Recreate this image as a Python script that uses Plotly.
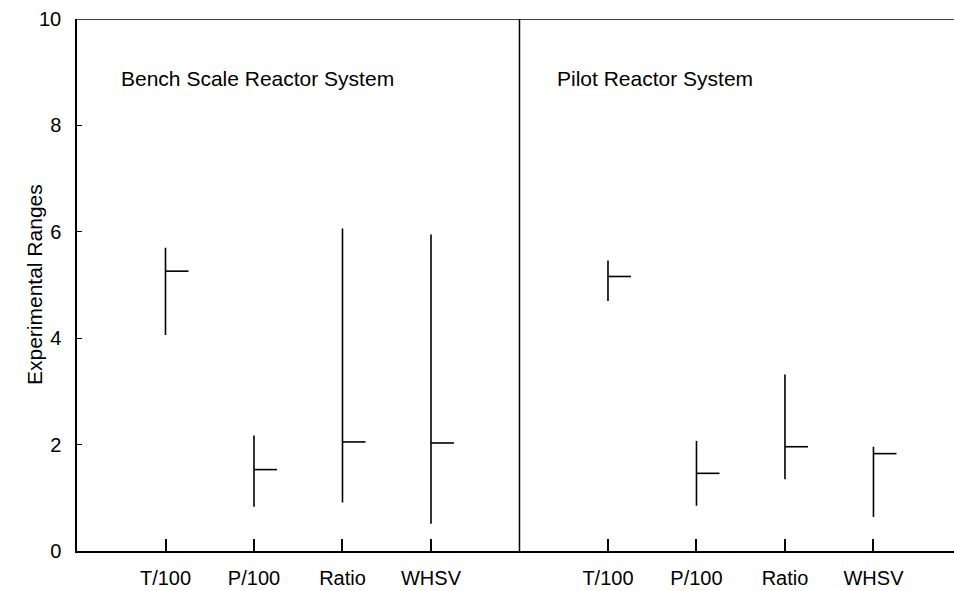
import plotly.graph_objects as go

categories = ["T/100", "P/100", "Ratio", "WHSV"]
bench_x = [1, 2, 3, 4]
pilot_x = [6, 7, 8, 9]
bench_low = [4.06, 0.83, 0.91, 0.51]
bench_high = [5.70, 2.17, 6.06, 5.95]
bench_mid = [5.26, 1.53, 2.05, 2.03]
pilot_low = [4.70, 0.85, 1.35, 0.64]
pilot_high = [5.46, 2.07, 3.32, 1.96]
pilot_mid = [5.16, 1.46, 1.96, 1.83]
tick_len = 0.26
divider_x = 5
panel_titles = ["Bench Scale Reactor System", "Pilot Reactor System"]
y_title = "Experimental Ranges"
font = "Liberation Sans, Arial, sans-serif"

fig = go.Figure()


def add_ranges(xs, lo, hi, mid):
    vx, vy, hx, hy = [], [], [], []
    for x, a, b, m in zip(xs, lo, hi, mid):
        vx += [x, x, None]
        vy += [a, b, None]
        hx += [x, x + tick_len, None]
        hy += [m, m, None]
    fig.add_trace(go.Scatter(x=vx, y=vy, mode="lines",
                             line=dict(color="black", width=1.6),
                             showlegend=False, hoverinfo="skip"))
    fig.add_trace(go.Scatter(x=hx, y=hy, mode="lines",
                             line=dict(color="black", width=1.6),
                             showlegend=False, hoverinfo="skip"))


add_ranges(bench_x, bench_low, bench_high, bench_mid)
add_ranges(pilot_x, pilot_low, pilot_high, pilot_mid)

# divider between panels and top border
fig.add_shape(type="line", x0=divider_x, x1=divider_x, y0=0, y1=10,
              xref="x", yref="y", line=dict(color="black", width=1.5))
fig.add_shape(type="line", x0=0, x1=1, y0=10, y1=10,
              xref="paper", yref="y", line=dict(color="black", width=1.5))

fig.add_annotation(x=0.47, y=8.88, xref="x", yref="y", text=panel_titles[0],
                   showarrow=False, xanchor="left", yanchor="middle",
                   font=dict(family=font, size=21, color="black"))
fig.add_annotation(x=5.4, y=8.88, xref="x", yref="y", text=panel_titles[1],
                   showarrow=False, xanchor="left", yanchor="middle",
                   font=dict(family=font, size=21, color="black"))
fig.add_annotation(x=-0.049, y=0.5, xref="paper", yref="paper", text=y_title,
                   showarrow=False, textangle=-90, xanchor="center",
                   yanchor="middle",
                   font=dict(family=font, size=21, color="black"))

fig.update_layout(
    width=954, height=591,
    margin=dict(l=77, r=0, t=19, b=40),
    paper_bgcolor="white", plot_bgcolor="white",
    font=dict(family=font, size=20, color="black"),
    xaxis=dict(range=[0, 9.91], tickvals=bench_x + pilot_x,
               ticktext=categories + categories, automargin=False,
               ticks="inside", ticklen=12, tickwidth=1.5, tickcolor="black",
               showline=True, linecolor="black", linewidth=1.5,
               showgrid=False, zeroline=False, ticklabelstandoff=8,
               tickfont=dict(family=font, size=20, color="black")),
    yaxis=dict(range=[0, 10], tickvals=[0, 2, 4, 6, 8, 10], automargin=False,
               ticks="inside", ticklen=5, tickwidth=1, tickcolor="black",
               showline=True, linecolor="black", linewidth=1.5,
               showgrid=False, zeroline=False, ticklabelstandoff=10,
               tickfont=dict(family=font, size=20, color="black")),
)

fig.write_html(
    "out.html",
    config={"displayModeBar": False},
    post_script="document.body.style.margin='0px';"
                "document.body.style.overflow='hidden';",
)
